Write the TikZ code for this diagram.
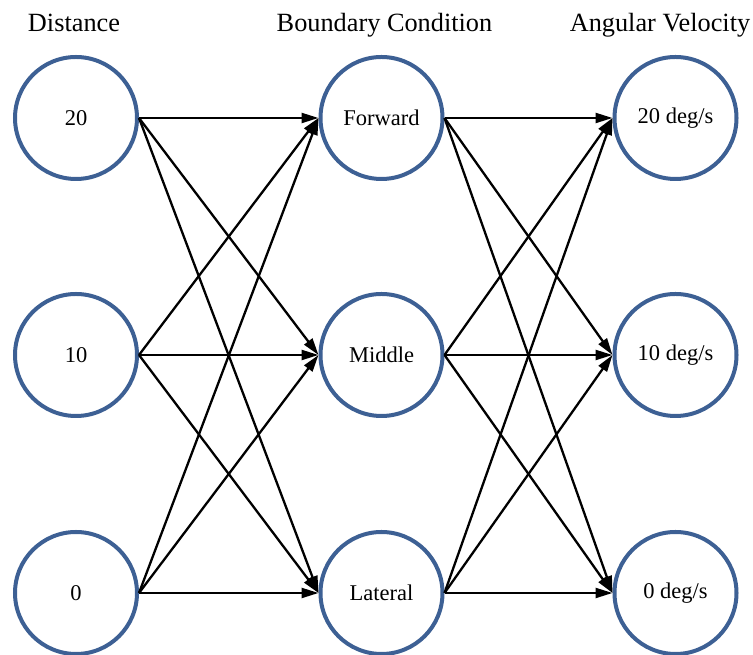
\documentclass[tikz,border=0pt]{standalone}
\usepackage{fontspec}
\setmainfont{Liberation Serif}
\newfontfamily\diafont{Liberation Serif}
\usetikzlibrary{arrows.meta}
\definecolor{nodeblue}{RGB}{61,96,148}
\tikzset{
  state/.style={circle, draw=nodeblue, line width=4pt, minimum size=122pt, inner sep=0pt, font=\diafont\fontsize{22.5}{24}\selectfont},
  title/.style={anchor=base, font=\diafont\fontsize{26.3}{28}\selectfont},
  edge/.style={line width=2.3pt, -{Triangle[length=17pt,width=10pt]}}
}
\begin{document}
\begin{tikzpicture}[x=1pt,y=1pt]
\useasboundingbox (0,0) rectangle (753,655);
% titles
\node[title] (t1) at (74,623) {Distance};
\node[title] (t2) at (384.5,623) {Boundary Condition};
\node[title] (t3) at (660,623) {Angular Velocity};
% column 1
\node[state] (d20) at (76,537) {20};
\node[state] (d10) at (76,300) {10};
\node[state] (d0)  at (76,62)  {0};
% column 2
\node[state] (bf) at (381.5,537) {\raisebox{-3pt}{Forward}};
\node[state] (bm) at (381.5,300) {Middle};
\node[state] (bl) at (381.5,62)  {\raisebox{-5pt}{Lateral}};
% column 3
\node[state] (a20) at (675.5,537) {20 deg/s};
\node[state] (a10) at (675.5,300) {10 deg/s};
\node[state] (a0)  at (675.5,62)  {0 deg/s};
% edges
\foreach \s in {d20,d10,d0}{
  \foreach \t in {bf,bm,bl}{
    \draw[edge] (\s.east) -- (\t.west);
  }
}
\foreach \s in {bf,bm,bl}{
  \foreach \t in {a20,a10,a0}{
    \draw[edge] (\s.east) -- (\t.west);
  }
}
\end{tikzpicture}
\end{document}
